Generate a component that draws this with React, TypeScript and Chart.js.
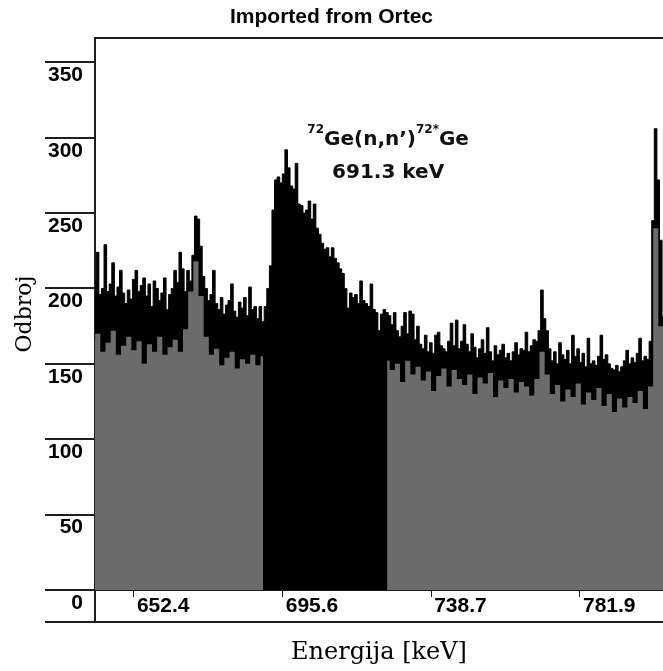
import React, { useEffect, useRef } from 'react';
import { Chart, registerables } from 'chart.js';

Chart.register(...registerables);

const TITLE = 'Imported from Ortec';
const X_TITLE = 'Energija [keV]';
const Y_TITLE = 'Odbroj';

const X_MIN = 641.1;
const X_MAX = 806.0;
const Y_MIN = 0;
const Y_MAX = 366;
const X_TICKS = [652.4, 695.6, 738.7, 781.9];
const Y_TICKS = [0, 50, 100, 150, 200, 250, 300, 350];

// upper envelope of the spectrum (counts), channels every 0.75 keV from 641.1 keV
const HI_E0 = 641.1;
const HI_STEP = 0.75;
const HI_COUNTS = [
  205, 224, 196, 200, 229, 198, 203, 217, 195, 201,
  212, 197, 190, 199, 193, 206, 212, 198, 202, 207,
  195, 203, 188, 205, 200, 192, 197, 207, 186, 196,
  200, 212, 204, 224, 213, 198, 212, 205, 222, 248,
  246, 228, 208, 200, 192, 196, 212, 190, 186, 194,
  183, 189, 192, 203, 185, 181, 191, 187, 194, 182,
  201, 186, 188, 180, 188, 178, 188, 200, 215, 252,
  272, 274, 270, 276, 292, 280, 268, 266, 283, 256,
  255, 250, 252, 258, 246, 256, 240, 236, 230, 226,
  227, 221, 227, 220, 217, 213, 210, 200, 187, 197,
  194, 196, 190, 205, 192, 190, 188, 203, 186, 184,
  172, 183, 186, 184, 182, 176, 184, 172, 168, 175,
  184, 170, 185, 183, 166, 175, 163, 160, 169, 158,
  164, 157, 169, 171, 162, 160, 158, 165, 177, 162,
  179, 160, 165, 176, 163, 158, 170, 161, 154, 160,
  166, 157, 174, 158, 152, 162, 156, 159, 163, 154,
  157, 152, 158, 164, 156, 160, 159, 171, 158, 162,
  166, 165, 172, 199, 180, 172, 160, 152, 158, 150,
  164, 156, 153, 159, 150, 169, 155, 160, 151, 157,
  148, 167, 150, 152, 149, 155, 169, 153, 156, 150,
  147, 146, 149, 145, 148, 152, 159, 150, 154, 151,
  157, 167, 152, 155, 153, 165, 245, 306, 272, 232,
  181,
];

// lower envelope (grey part), channels every 1.5 keV from 640.4 keV; null = ROI (black)
const LO_E0 = 640.4;
const LO_STEP = 1.5;
const LO_COUNTS: (number | null)[] = [
  166, 170, 158, 164, 172, 156, 162, 168, 159, 165,
  150, 163, 158, 168, 156, 161, 166, 158, 173, 198,
  218, 195, 168, 156, 160, 149, 154, 158, 147, 153,
  150, 156, 149, 155,
  null, null, null, null, null, null, null, null, null, null,
  null, null, null, null, null, null, null, null, null, null,
  null, null, null,
  152, 146, 150, 138, 152, 143, 148, 139, 145, 132,
  142, 147, 135, 146, 140, 136, 143, 130, 141, 137,
  144, 128, 139, 134, 140, 131, 138, 135, 129, 140,
  158, 143, 130, 136, 125, 133, 128, 137, 123, 131,
  126, 134, 122, 130, 118, 127, 121, 128, 124, 132,
  120, 135, 240, 175, 140,
];

const ANNOT_E = 726.2;
const ANNOT_LINE1_Y = 295;
const ANNOT_LINE2_Y = 273;
const ANNOT_LINE1: [string, boolean][] = [
  ['72', true],
  ['Ge(n,n\u2019)', false],
  ['72*', true],
  ['Ge', false],
];
const ANNOT_LINE2 = '691.3 keV';

const AXIS_COLOR = '#1e1e1e';
const GREY = '#6b6b6b';
const TICK_FONT = { family: '"Liberation Sans", Arial, sans-serif', size: 21, weight: 'bold' as const };
const X_TITLE_FONT = { family: '"DejaVu Serif", serif', size: 24 };
const Y_TITLE_FONT = { family: '"DejaVu Serif", serif', size: 22 };
const ANNOT_BIG = 'bold 20px "DejaVu Sans", sans-serif';
const ANNOT_SMALL = 'bold 12px "DejaVu Sans", sans-serif';

const annotationPlugin = {
  id: 'geAnnotation',
  afterDatasetsDraw(chart: any) {
    const { ctx, scales } = chart;
    const cx = scales.x.getPixelForValue(ANNOT_E);
    const y1 = scales.y.getPixelForValue(ANNOT_LINE1_Y);
    const y2 = scales.y.getPixelForValue(ANNOT_LINE2_Y);
    ctx.save();
    ctx.fillStyle = '#111';
    ctx.textBaseline = 'alphabetic';
    ctx.textAlign = 'left';
    const widths = ANNOT_LINE1.map(([t, sup]) => {
      ctx.font = sup ? ANNOT_SMALL : ANNOT_BIG;
      return ctx.measureText(t).width;
    });
    const total = widths.reduce((a, b) => a + b, 0);
    let px = cx - total / 2;
    ANNOT_LINE1.forEach(([t, sup], i) => {
      ctx.font = sup ? ANNOT_SMALL : ANNOT_BIG;
      ctx.fillText(t, px, sup ? y1 - 12 : y1);
      px += widths[i];
    });
    ctx.font = ANNOT_BIG;
    ctx.textAlign = 'center';
    ctx.fillText(ANNOT_LINE2, cx, y2);
    ctx.restore();
  },
};

const framePlugin = {
  id: 'frameExtension',
  afterDraw(chart: any) {
    const { ctx, chartArea, scales } = chart;
    const left = chartArea.left;
    const bottom = chartArea.bottom;
    const boxBottom = bottom + 32;
    const tickStart = scales.y.right - 50;
    ctx.save();
    ctx.strokeStyle = AXIS_COLOR;
    ctx.lineWidth = 2;
    ctx.beginPath();
    ctx.moveTo(left, bottom);
    ctx.lineTo(left, boxBottom);
    ctx.moveTo(tickStart, boxBottom);
    ctx.lineTo(chart.width, boxBottom);
    ctx.stroke();
    ctx.restore();
  },
};

export default function App() {
  const canvasRef = useRef<HTMLCanvasElement | null>(null);

  useEffect(() => {
    const canvas = canvasRef.current;
    if (!canvas) return;
    const hiData = HI_COUNTS.map((c, i) => ({ x: HI_E0 + i * HI_STEP, y: c }));
    const loData = LO_COUNTS.map((c, j) => ({ x: LO_E0 + j * LO_STEP, y: c }));

    const chart = new Chart(canvas, {
      type: 'line',
      data: {
        datasets: [
          {
            label: 'upper',
            data: hiData,
            stepped: 'middle',
            borderColor: '#000',
            borderWidth: 1,
            backgroundColor: '#000',
            fill: 'origin',
            pointRadius: 0,
            order: 2,
          },
          {
            label: 'lower',
            data: loData as any,
            stepped: 'middle',
            borderColor: 'rgba(0,0,0,0)',
            borderWidth: 1,
            backgroundColor: GREY,
            fill: 'origin',
            pointRadius: 0,
            spanGaps: false,
            order: 1,
          },
        ],
      },
      options: {
        responsive: false,
        maintainAspectRatio: false,
        animation: false,
        events: [],
        layout: { padding: 0 },
        plugins: {
          legend: { display: false },
          tooltip: { enabled: false },
          title: {
            display: true,
            text: TITLE,
            color: '#000',
            font: { family: '"Liberation Sans", Arial, sans-serif', size: 21, weight: 'bold' },
            padding: { top: 5, bottom: 8 },
          },
        },
        scales: {
          x: {
            type: 'linear',
            position: 'bottom',
            min: X_MIN,
            max: X_MAX,
            afterFit: (s: any) => {
              s.height = 81;
            },
            afterBuildTicks: (s: any) => {
              s.ticks = X_TICKS.map((v) => ({ value: v }));
            },
            grid: { drawOnChartArea: false, drawTicks: true, tickLength: 7, color: AXIS_COLOR, lineWidth: 1 },
            border: { display: true, color: AXIS_COLOR, width: 2 },
            ticks: {
              align: 'start',
              labelOffset: 3,
              padding: -3,
              autoSkip: false,
              maxRotation: 0,
              color: '#000',
              font: TICK_FONT,
              callback: (v: any) => Number(v).toFixed(1),
            },
            title: {
              display: true,
              text: X_TITLE,
              color: '#000',
              font: X_TITLE_FONT,
              padding: { top: 0, bottom: 4 },
            },
          },
          xTop: {
            type: 'linear',
            position: 'top',
            min: X_MIN,
            max: X_MAX,
            afterFit: (s: any) => {
              s.height = 0;
            },
            grid: { drawOnChartArea: false, drawTicks: false },
            border: { display: true, color: AXIS_COLOR, width: 2 },
            ticks: { display: false },
          },
          y: {
            type: 'linear',
            min: Y_MIN,
            max: Y_MAX,
            afterFit: (s: any) => {
              s.width = 95;
            },
            afterBuildTicks: (s: any) => {
              s.ticks = Y_TICKS.map((v) => ({ value: v }));
            },
            grid: { drawOnChartArea: false, drawTicks: true, tickLength: 50, color: AXIS_COLOR, lineWidth: 2 },
            border: { display: true, color: AXIS_COLOR, width: 2 },
            ticks: {
              padding: -38,
              labelOffset: 13,
              autoSkip: false,
              color: '#000',
              font: TICK_FONT,
            },
            title: {
              display: true,
              text: Y_TITLE,
              color: '#000',
              font: Y_TITLE_FONT,
              padding: { top: 12, bottom: 0 },
            },
          },
        },
      },
      plugins: [annotationPlugin, framePlugin],
    } as any);

    return () => chart.destroy();
  }, []);

  return (
    <div style={{ position: 'absolute', left: 0, top: 0, width: 663, height: 671, background: '#fff' }}>
      <canvas ref={canvasRef} width={663} height={671} style={{ width: 663, height: 671, display: 'block' }} />
    </div>
  );
}
